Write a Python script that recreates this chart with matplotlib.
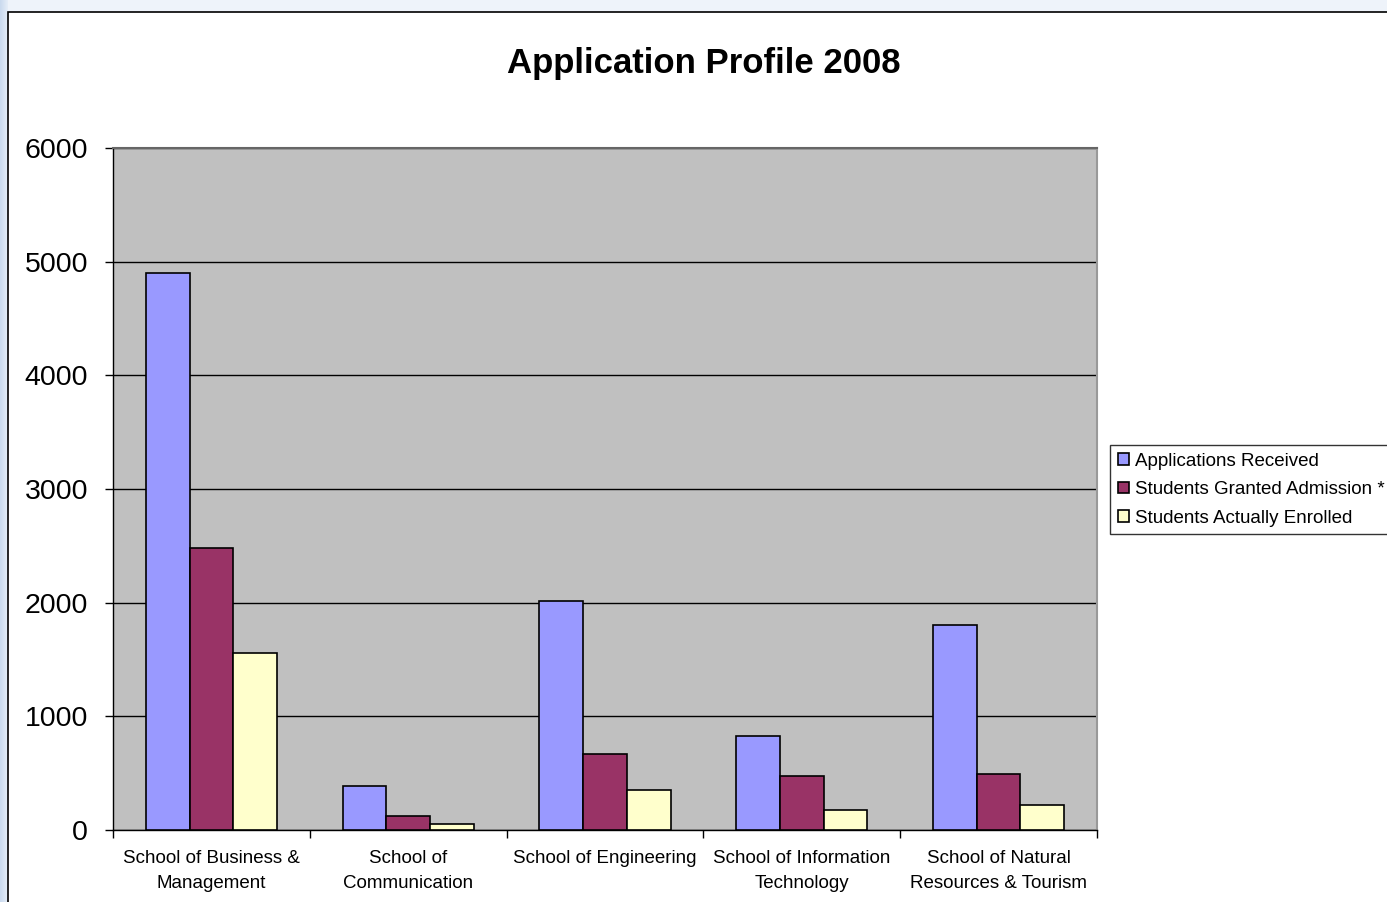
import matplotlib
matplotlib.use("Agg")
import matplotlib.pyplot as plt
import numpy as np
from matplotlib.patches import Rectangle

plt.rcParams['font.family'] = ['Liberation Sans', 'DejaVu Sans']

categories = ["School of Business &\nManagement", "School of\nCommunication",
              "School of Engineering", "School of Information\nTechnology",
              "School of Natural\nResources & Tourism"]
applications = [4900, 385, 2015, 825, 1800]
admitted = [2480, 120, 670, 475, 490]
enrolled = [1555, 50, 350, 175, 220]
series_names = ["Applications Received", "Students Granted Admission *", "Students Actually Enrolled"]
colors = ["#9999FF", "#993366", "#FFFFCC"]
yticks = [0, 1000, 2000, 3000, 4000, 5000, 6000]

W, H = 1387, 902
fig = plt.figure(figsize=(W / 100, H / 100), dpi=100)
fig.patch.set_facecolor("#eef3fa")

# left bluish strip gradient
grad = np.linspace(0, 1, 50).reshape(1, -1)
gax = fig.add_axes([0, 0, 8 / W, 1], zorder=-20)
gax.imshow(grad, aspect='auto', cmap=matplotlib.colors.LinearSegmentedColormap.from_list('g', ['#c9d9ee', '#e6eef8']))
gax.axis('off')

# white chart area with black border
fig.patches.append(Rectangle((8 / W, -0.05), 1.0, 1 - 12 / H + 0.05, transform=fig.transFigure,
                             facecolor="white", edgecolor="black", linewidth=1.2, zorder=-10))

ax = fig.add_axes([113 / W, 1 - 830 / H, (1097 - 113) / W, (830 - 148) / H], zorder=5)
ax.set_facecolor("#C0C0C0")

x = np.arange(len(categories))
w = 0.2222
for i, (vals, c, name) in enumerate(zip([applications, admitted, enrolled], colors, series_names)):
    ax.bar(x + (i - 1) * w, vals, width=w, color=c, edgecolor="black", linewidth=1.2,
           label=name, zorder=3)

ax.set_xlim(-0.5, len(categories) - 0.5)
ax.set_ylim(0, 6000)
ax.set_yticks(yticks)
ax.set_yticklabels([str(v) for v in yticks], fontsize=20.5)
ax.yaxis.grid(True, color="black", linewidth=1.0, zorder=1)
ax.set_axisbelow(True)

ax.set_xticks(np.arange(len(categories) + 1) - 0.5)
ax.set_xticklabels([])
ax.set_xticks(x, minor=True)
ax.set_xticklabels(categories, minor=True, fontsize=13.5, linespacing=1.6)
ax.tick_params(axis='x', which='minor', length=0, pad=14.5)
ax.tick_params(axis='x', which='major', length=6, width=1, direction='out')
ax.tick_params(axis='y', length=6, width=1, direction='out', pad=12)

for s in ['left', 'bottom']:
    ax.spines[s].set_color('black')
    ax.spines[s].set_linewidth(1.0)
ax.spines['top'].set_color('#666666')
ax.spines['top'].set_linewidth(1.5)
ax.spines['right'].set_color('#999999')
ax.spines['right'].set_linewidth(1.5)

fig.text(704 / W, 1 - 63 / H, "Application Profile 2008", ha='center', va='center',
         fontsize=25, fontweight='bold')

leg = ax.legend(loc='upper left', bbox_to_anchor=(1110 / W, 1 - 445 / H), bbox_transform=fig.transFigure,
                borderaxespad=0, fontsize=13.5, frameon=True, fancybox=False, shadow=False,
                handlelength=0.6, handleheight=0.6, handletextpad=0.35, labelspacing=0.62,
                borderpad=0.4)
leg.get_frame().set_edgecolor('black')
leg.get_frame().set_linewidth(1.0)
leg.get_frame().set_facecolor('white')

fig.savefig("out.png", dpi=100, facecolor=fig.get_facecolor())
